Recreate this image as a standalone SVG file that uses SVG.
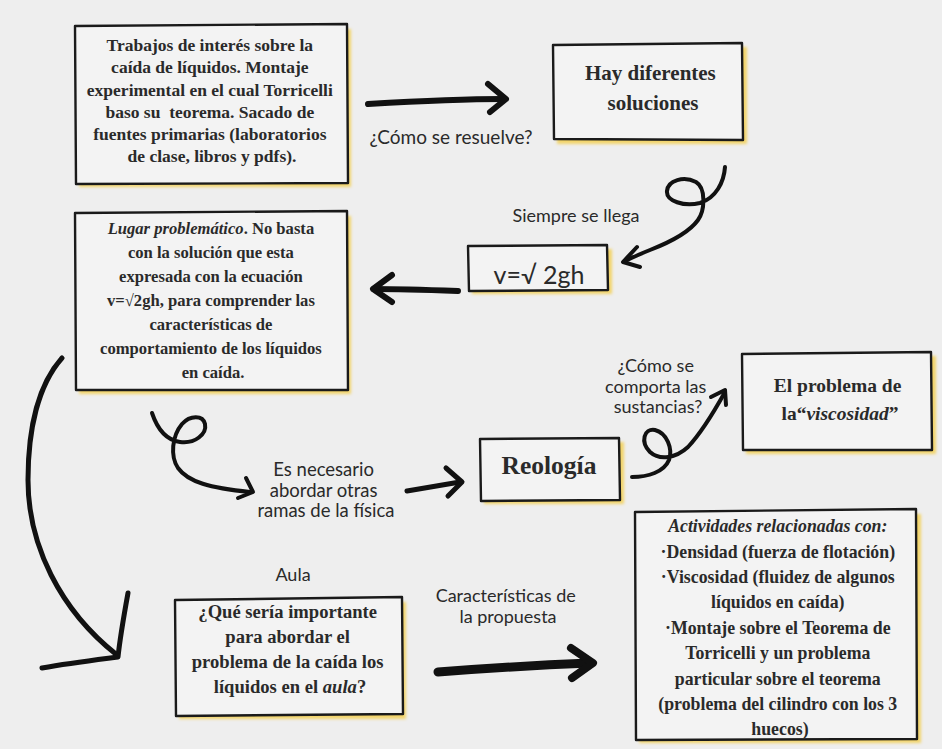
<svg xmlns="http://www.w3.org/2000/svg" width="942" height="749" viewBox="0 0 942 749">
<defs>
<filter id="soft" x="-10%" y="-10%" width="120%" height="120%"><feGaussianBlur stdDeviation="1.5"/></filter>
</defs>
<style>
.bg{fill:#eeeeee}
.sh{fill:#f2d46a;filter:url(#soft)}
.box{fill:#f3f3f3;stroke:#1a1a1a;stroke-width:2.4;stroke-linejoin:round}
.t{font-family:"Liberation Serif","Times New Roman",serif;font-weight:bold;fill:#2a2a2a;text-anchor:middle}
.i{font-style:italic}
.h{font-family:Lato,"Open Sans",sans-serif;fill:#2a2a2a;text-anchor:middle}
.c{fill:none;stroke:#111;stroke-linecap:round;stroke-linejoin:round}
</style>
<rect class="bg" x="0" y="0" width="942" height="749"/>

<g id="connectors">
  <path class="c" stroke-width="6" d="M368,104 C420,101 470,99 503,99"/>
  <path class="c" stroke-width="6" d="M488,84 L506,99 L490,112"/>
  <path class="c" stroke-width="4" d="M725,167 C724,182 716,198 700,203 C684,207 666,201 667,191 C668,180 684,176 696,182 C706,188 705,210 698,220 C688,234 668,243 650,250 C640,254 630,258 624,262"/>
  <path class="c" stroke-width="4" d="M637,247 L623,262 L640,267"/>
  <path class="c" stroke-width="6" d="M458,291 C430,290 400,289 374,289"/>
  <path class="c" stroke-width="6" d="M392,275 L373,289 L392,302"/>
  <path class="c" stroke-width="4" d="M152,413 C157,428 166,440 180,442 C195,444 207,434 205,424 C203,415 190,415 182,424 C172,436 170,456 178,468 C188,482 210,488 250,492"/>
  <path class="c" stroke-width="4" d="M246,478 L253,492 L238,498"/>
  <path class="c" stroke-width="5" d="M407,491 C425,488 443,485 460,482"/>
  <path class="c" stroke-width="5" d="M446,468 L462,482 L448,496"/>
  <path class="c" stroke-width="4" d="M632,477 C648,477 664,472 669,460 C673,449 667,433 655,430 C644,428 640,442 650,452 C660,461 676,458 688,447 C702,432 715,410 725,392"/>
  <path class="c" stroke-width="4" d="M711,397 L725,390 L726,405"/>
  <path class="c" stroke-width="5" d="M62,358 C38,385 28,430 28,480 C28,545 60,610 117,655"/>
  <path class="c" stroke-width="5" d="M128,593 C124,615 120,638 118,657 C95,660 70,663 42,668"/>
  <path class="c" stroke-width="9" d="M438,672 C490,668 540,665 590,663"/>
  <path class="c" stroke-width="8" d="M571,648 L593,663 L572,678"/>
</g>

<g id="n1">
  <rect class="sh" x="79" y="29" width="272" height="158"/>
  <path class="box" d="M75,26 L347,24 L348,183 L76,184 Z"/>
  <text class="t" font-size="17.5">
    <tspan x="212" y="51">Trabajos de interés sobre la</tspan>
    <tspan x="212" y="73">caída de líquidos. Montaje</tspan>
    <tspan x="212" y="95.5">experimental en el cual Torricelli</tspan>
    <tspan x="212" y="117.5">baso su&#160; teorema. Sacado de</tspan>
    <tspan x="212" y="140">fuentes primarias (laboratorios</tspan>
    <tspan x="212" y="162">de clase, libros y pdfs).</tspan>
  </text>
</g>

<g id="n2">
  <rect class="sh" x="557" y="47" width="190" height="97"/>
  <path class="box" d="M553,45 L742,43 L743,140 L554,139 Z"/>
  <text class="t" font-size="21">
    <tspan x="653" y="80">Hay diferentes</tspan>
    <tspan x="653" y="110">soluciones</tspan>
  </text>
</g>
<text class="h" font-size="19" x="451" y="144">¿Cómo se resuelve?</text>

<g id="n3">
  <rect class="sh" x="472" y="249" width="140" height="45"/>
  <path class="box" d="M468,246 L607,245 L608,290 L469,291 Z"/>
  <text class="h" font-size="25" x="539" y="284">v=√ 2gh</text>
</g>
<text class="h" font-size="18" x="576" y="222">Siempre se llega</text>

<g id="n4">
  <rect class="sh" x="79" y="216" width="272" height="178"/>
  <path class="box" d="M75,213 L347,211 L348,390 L76,390 Z"/>
  <text class="t" font-size="16.6">
    <tspan x="213" y="234"><tspan class="i">Lugar problemático</tspan>. No basta</tspan>
    <tspan x="213" y="258">con la solución que esta</tspan>
    <tspan x="213" y="282">expresada con la ecuación</tspan>
    <tspan x="213" y="306">v=√2gh, para comprender las</tspan>
    <tspan x="213" y="330">características de</tspan>
    <tspan x="213" y="354">comportamiento de los líquidos</tspan>
    <tspan x="213" y="378">en caída.</tspan>
  </text>
</g>

<g id="n5">
  <rect class="sh" x="484" y="442" width="140" height="62"/>
  <path class="box" d="M480,439 L619,438 L620,500 L481,501 Z"/>
  <text class="t" font-size="25.5" x="549" y="474">Reología</text>
</g>
<text class="h" font-size="18.5">
  <tspan x="326" y="476">Es necesario</tspan>
  <tspan x="326" y="496.5">abordar otras</tspan>
  <tspan x="326" y="517">ramas de la física</tspan>
</text>

<g id="n6">
  <rect class="sh" x="746" y="356" width="190" height="98"/>
  <path class="box" d="M742,354 L931,352 L932,450 L743,450 Z"/>
  <text class="t" font-size="19.5">
    <tspan x="840" y="392">El problema de</tspan>
    <tspan x="840" y="420">la“<tspan class="i">viscosidad</tspan>”</tspan>
  </text>
</g>
<text class="h" font-size="18">
  <tspan x="658" y="372">¿Cómo se</tspan>
  <tspan x="658" y="393">comporta las</tspan>
  <tspan x="658" y="413">sustancias?</tspan>
</text>

<g id="n7">
  <rect class="sh" x="179" y="602" width="227" height="117"/>
  <path class="box" d="M175,600 L402,597 L403,714 L176,716 Z"/>
  <text class="t" font-size="18.6">
    <tspan x="290" y="618">¿Qué sería importante</tspan>
    <tspan x="290" y="643">para abordar el</tspan>
    <tspan x="290" y="668">problema de la caída los</tspan>
    <tspan x="290" y="693">líquidos en el <tspan class="i">aula</tspan>?</tspan>
  </text>
</g>
<text class="h" font-size="18" x="293" y="581">Aula</text>
<text class="h" font-size="18">
  <tspan x="508" y="602">Características de</tspan>
  <tspan x="508" y="623">la propuesta</tspan>
</text>

<g id="n8">
  <rect class="sh" x="639" y="514" width="282" height="229"/>
  <path class="box" d="M635,512 L916,509 L917,739 L636,740 Z"/>
  <text class="t" font-size="17.8">
    <tspan class="i" x="780" y="532">Actividades relacionadas con:</tspan>
    <tspan x="780" y="557.5">·Densidad (fuerza de flotación)</tspan>
    <tspan x="780" y="583">·Viscosidad (fluidez de algunos</tspan>
    <tspan x="780" y="608">líquidos en caída)</tspan>
    <tspan x="780" y="634">·Montaje sobre el Teorema de</tspan>
    <tspan x="780" y="659">Torricelli y un problema</tspan>
    <tspan x="780" y="684.5">particular sobre el teorema</tspan>
    <tspan x="780" y="710">(problema del cilindro con los 3</tspan>
    <tspan x="780" y="735">huecos)</tspan>
  </text>
</g>
</svg>
